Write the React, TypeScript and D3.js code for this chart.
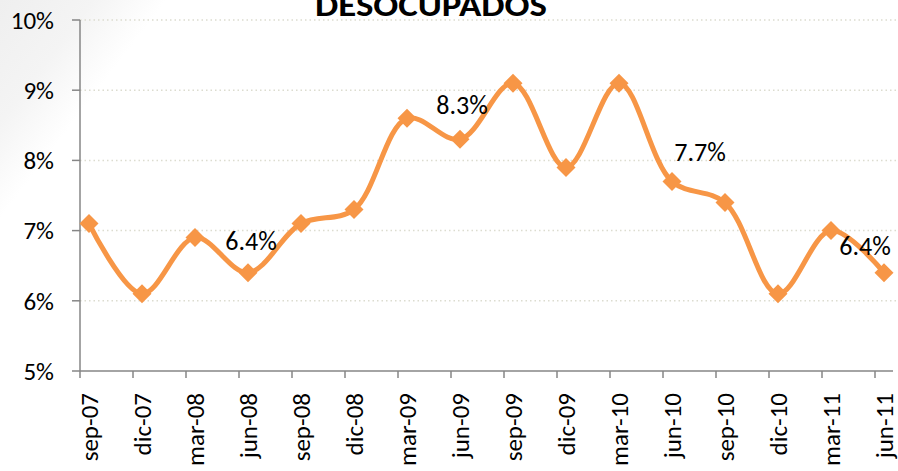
import React from "react";
import * as d3 from "d3";

const categories = [
  "sep-07", "dic-07", "mar-08", "jun-08", "sep-08", "dic-08", "mar-09", "jun-09",
  "sep-09", "dic-09", "mar-10", "jun-10", "sep-10", "dic-10", "mar-11", "jun-11",
];
const values = [7.1, 6.1, 6.9, 6.4, 7.1, 7.3, 8.6, 8.3, 9.1, 7.9, 9.1, 7.7, 7.4, 6.1, 7.0, 6.4];
const yTicks = [5, 6, 7, 8, 9, 10];
const labeledIdx = [3, 7, 11, 15];
const title = "DESOCUPADOS";

const W = 898;
const H = 471;
const FONT = "Carlito, Calibri, 'Open Sans', sans-serif";
const ORANGE = "#F79646";

export default function App() {
  const x = d3.scalePoint<string>().domain(categories).range([89, 884]);
  const y = d3.scaleLinear().domain([5, 10]).range([371, 20]);
  const line = d3
    .line<number>()
    .x((_, i) => x(categories[i]) as number)
    .y((d) => y(d))
    .curve(d3.curveCatmullRom.alpha(0.5));

  const labelOffsets: Record<number, [number, number]> = {
    3: [3, -32],
    7: [2, -34],
    11: [28, -30],
    15: [-19, -27],
  };

  const diamond = (cx: number, cy: number, r: number) =>
    `M${cx},${cy - r}L${cx + r},${cy}L${cx},${cy + r}L${cx - r},${cy}Z`;

  const axisX0 = 80;
  return (
    <svg
      width={W}
      height={H}
      style={{ position: "absolute", left: 0, top: 0, background: "#fff" }}
    >
      <defs>
        <linearGradient id="bg" x1="0" y1="0" x2="1" y2="0.4">
          <stop offset="0" stopColor="#efefef" />
          <stop offset="0.09" stopColor="#f4f4f4" />
          <stop offset="0.16" stopColor="#ffffff" />
          <stop offset="1" stopColor="#ffffff" />
        </linearGradient>
      </defs>
      <rect x={0} y={0} width={W} height={H} fill="url(#bg)" />

      {/* gridlines */}
      {yTicks.filter((t) => t > 5).map((t) => (
        <line
          key={"g" + t}
          x1={axisX0}
          x2={W}
          y1={y(t)}
          y2={y(t)}
          stroke="#dcdccf"
          strokeWidth={1.5}
          strokeDasharray="1.5,3"
        />
      ))}

      {/* title */}
      <text
        x={431}
        y={16}
        textAnchor="middle"
        fontFamily={FONT}
        fontWeight="bold"
        fontSize={33}
        textLength={232}
        lengthAdjust="spacingAndGlyphs"
        fill="#000"
      >
        {title}
      </text>

      {/* y axis */}
      <line x1={axisX0} x2={axisX0} y1={y(10)} y2={y(5)} stroke="#868686" strokeWidth={1.5} />
      {yTicks.map((t) => (
        <g key={"y" + t}>
          <line x1={72} x2={axisX0} y1={y(t)} y2={y(t)} stroke="#868686" strokeWidth={1.5} />
          <text
            x={54}
            y={y(t)}
            dy="0.35em"
            textAnchor="end"
            fontFamily={FONT}
            fontSize={25}
            fill="#000"
          >
            {t + "%"}
          </text>
        </g>
      ))}

      {/* x axis */}
      <line x1={axisX0} x2={893} y1={y(5)} y2={y(5)} stroke="#868686" strokeWidth={1.5} />
      {categories.map((c) => {
        const cx = x(c) as number;
        return (
          <g key={"x" + c}>
            <line
              x1={cx - 9}
              x2={cx - 9}
              y1={y(5)}
              y2={y(5) + 7}
              stroke="#868686"
              strokeWidth={1.5}
            />
            <text
              transform={`translate(${cx + 9},393) rotate(-90)`}
              textAnchor="end"
              fontFamily={FONT}
              fontSize={25}
              fill="#000"
            >
              {c}
            </text>
          </g>
        );
      })}

      {/* line */}
      <path
        d={line(values) || ""}
        fill="none"
        stroke={ORANGE}
        strokeWidth={5}
        strokeLinejoin="round"
        strokeLinecap="round"
      />
      {values.map((v, i) => (
        <path
          key={"m" + i}
          d={diamond(x(categories[i]) as number, y(v), 9.5)}
          fill={ORANGE}
        />
      ))}

      {/* data labels */}
      {labeledIdx.map((i) => {
        const [dx, dy] = labelOffsets[i];
        return (
          <text
            key={"l" + i}
            x={(x(categories[i]) as number) + dx}
            y={y(values[i]) + dy}
            dy="0.35em"
            textAnchor="middle"
            fontFamily={FONT}
            fontSize={26}
            fill="#000"
          >
            {values[i].toFixed(1) + "%"}
          </text>
        );
      })}
    </svg>
  );
}
